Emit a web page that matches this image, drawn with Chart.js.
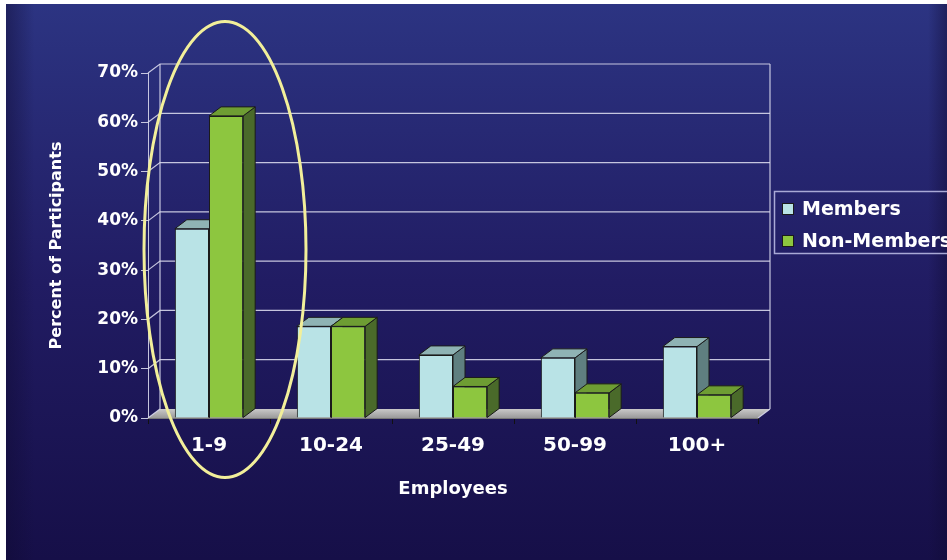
<!DOCTYPE html>
<html>
<head>
<meta charset="utf-8">
<script src="https://cdn.jsdelivr.net/npm/chart.js@4.4.0/dist/chart.umd.min.js"></script>
<style>
html,body{margin:0;padding:0;background:#fff;}
#wrap{width:947px;height:560px;}
</style>
</head>
<body>
<div id="wrap"><canvas id="chart" width="947" height="560"></canvas></div>
<script>
// data
const categories = ['1-9', '10-24', '25-49', '50-99', '100+'];
const members = [38.4, 18.6, 12.8, 12.2, 14.5];
const nonMembers = [61.3, 18.6, 6.4, 5.1, 4.7];
const yTicks = [0, 10, 20, 30, 40, 50, 60, 70];

const DX = 12, DY = 9;
const FONT = "'DejaVu Sans', Arial, sans-serif";
const gridCol = 'rgba(215,215,235,0.9)';

const faces = [
  {front: '#b9e3e6', top: '#8fb3b4', side: '#5f7f80'},
  {front: '#8dc63f', top: '#6e9d33', side: '#4a6a2a'}
];

const bgPlugin = {
  id: 'bg',
  beforeDraw(chart) {
    const ctx = chart.ctx;
    ctx.save();
    ctx.fillStyle = '#fff';
    ctx.fillRect(0, 0, 947, 560);
    let g = ctx.createLinearGradient(0, 4, 0, 560);
    g.addColorStop(0, '#2c3482');
    g.addColorStop(0.5, '#211c63');
    g.addColorStop(1, '#160f48');
    ctx.fillStyle = g;
    ctx.fillRect(6, 4, 941, 556);
    // darker side bands
    let h = ctx.createLinearGradient(6, 0, 947, 0);
    h.addColorStop(0, 'rgba(15,10,50,0.45)');
    h.addColorStop(0.03, 'rgba(15,10,50,0)');
    h.addColorStop(0.98, 'rgba(15,10,50,0)');
    h.addColorStop(1, 'rgba(15,10,50,0.45)');
    ctx.fillStyle = h;
    ctx.fillRect(6, 4, 941, 556);
    ctx.restore();
  }
};

function depth(ctx, bar, f) {
  const l = bar.x - bar.width / 2, r = bar.x + bar.width / 2;
  const y = bar.y, base = bar.base;
  ctx.strokeStyle = '#1b1b1b';
  ctx.lineWidth = 1;
  ctx.fillStyle = f.side;
  ctx.beginPath();
  ctx.moveTo(r, y); ctx.lineTo(r + DX, y - DY); ctx.lineTo(r + DX, base - DY); ctx.lineTo(r, base);
  ctx.closePath(); ctx.fill(); ctx.stroke();
  ctx.fillStyle = f.top;
  ctx.beginPath();
  ctx.moveTo(l, y); ctx.lineTo(l + DX, y - DY); ctx.lineTo(r + DX, y - DY); ctx.lineTo(r, y);
  ctx.closePath(); ctx.fill(); ctx.stroke();
}

const wallPlugin = {
  id: 'wall',
  beforeDatasetsDraw(chart) {
    const ctx = chart.ctx, a = chart.chartArea, ys = chart.scales.y;
    ctx.save();
    // floor
    const y0 = ys.getPixelForValue(0);
    let fg = ctx.createLinearGradient(0, y0 - DY, 0, y0);
    fg.addColorStop(0, '#c9c9c9');
    fg.addColorStop(1, '#9a9a9a');
    ctx.fillStyle = fg;
    ctx.beginPath();
    ctx.moveTo(a.left, y0); ctx.lineTo(a.right, y0);
    ctx.lineTo(a.right + DX, y0 - DY); ctx.lineTo(a.left + DX, y0 - DY);
    ctx.closePath(); ctx.fill();
    ctx.strokeStyle = '#777'; ctx.lineWidth = 1;
    ctx.beginPath(); ctx.moveTo(a.left, y0 + 0.5); ctx.lineTo(a.right, y0 + 0.5); ctx.stroke();
    // back wall and left wall grid
    ctx.strokeStyle = gridCol;
    ctx.lineWidth = 1.2;
    yTicks.forEach(v => {
      const y = ys.getPixelForValue(v);
      ctx.beginPath();
      ctx.moveTo(a.left, y); ctx.lineTo(a.left + DX, y - DY);
      if (v > 0) ctx.lineTo(a.right + DX, y - DY);
      ctx.stroke();
    });
    const yTop = ys.getPixelForValue(70) - DY;
    ctx.beginPath();
    ctx.moveTo(a.left + DX, y0 - DY); ctx.lineTo(a.left + DX, yTop);
    ctx.moveTo(a.right + DX, y0 - DY); ctx.lineTo(a.right + DX, yTop);
    ctx.moveTo(a.right, y0); ctx.lineTo(a.right + DX, y0 - DY);
    ctx.stroke();
    // bar depth faces, left to right
    const m0 = chart.getDatasetMeta(0).data, m1 = chart.getDatasetMeta(1).data;
    for (let i = 0; i < categories.length; i++) {
      depth(ctx, m0[i], faces[0]);
      depth(ctx, m1[i], faces[1]);
    }
    ctx.restore();
  },
  afterDraw(chart) {
    const ctx = chart.ctx, xs = chart.scales.x, ys = chart.scales.y;
    ctx.save();
    // highlight ellipse round the first group
    ctx.strokeStyle = '#f2ef9a';
    ctx.lineWidth = 3;
    ctx.beginPath();
    ctx.ellipse(xs.getPixelForValue(0) + 16, (ys.top + ys.bottom) / 2 + 4, 81, 228, 0, 0, Math.PI * 2);
    ctx.stroke();
    // legend box
    ctx.strokeStyle = '#a9a9d6';
    ctx.lineWidth = 1.5;
    ctx.strokeRect(774.5, 191.5, 200, 62);
    chart.data.datasets.forEach((ds, i) => {
      const yy = 209 + i * 32;
      ctx.fillStyle = ds.backgroundColor;
      ctx.fillRect(782, yy - 6, 12, 12);
      ctx.strokeStyle = '#1b1b1b';
      ctx.lineWidth = 1;
      ctx.strokeRect(782.5, yy - 5.5, 11, 11);
      ctx.fillStyle = '#fff';
      ctx.font = 'bold 19px ' + FONT;
      ctx.textBaseline = 'middle';
      ctx.fillText(ds.label, 802, yy + 1);
    });
    ctx.restore();
  }
};

new Chart(document.getElementById('chart'), {
  type: 'bar',
  data: {
    labels: categories,
    datasets: [
      {label: 'Members', data: members, backgroundColor: faces[0].front, borderColor: '#1b1b1b', borderWidth: 1},
      {label: 'Non-Members', data: nonMembers, backgroundColor: faces[1].front, borderColor: '#1b1b1b', borderWidth: 1}
    ]
  },
  options: {
    responsive: false,
    animation: false,
    devicePixelRatio: 1,
    categoryPercentage: 0.56,
    barPercentage: 1.0,
    layout: {padding: {top: 73, right: 189, bottom: 0, left: 0}},
    plugins: {legend: {display: false}, tooltip: {enabled: false}},
    scales: {
      x: {
        grid: {offset: true, drawOnChartArea: false, drawTicks: true, tickLength: 6, color: '#111'},
        border: {display: false},
        ticks: {color: '#fff', font: {family: FONT, size: 20, weight: 'bold'}, padding: 10},
        title: {display: true, text: 'Employees', color: '#fff', font: {family: FONT, size: 18, weight: 'bold'}, padding: {bottom: 60}},
        afterFit(s) { s.height = 142; }
      },
      y: {
        min: 0, max: 70,
        afterBuildTicks(s) { s.ticks = yTicks.map(v => ({value: v})); },
        grid: {drawOnChartArea: false, drawTicks: true, tickLength: 7, color: gridCol},
        border: {color: gridCol},
        ticks: {color: '#fff', font: {family: FONT, size: 17, weight: 'bold'}, padding: 3, callback: v => v + '%'},
        title: {display: true, text: 'Percent of Participants', color: '#fff', font: {family: FONT, size: 16, weight: 'bold'}, padding: {top: 47}},
        afterFit(s) { s.width = 148; }
      }
    }
  },
  plugins: [bgPlugin, wallPlugin]
});
</script>
</body>
</html>
